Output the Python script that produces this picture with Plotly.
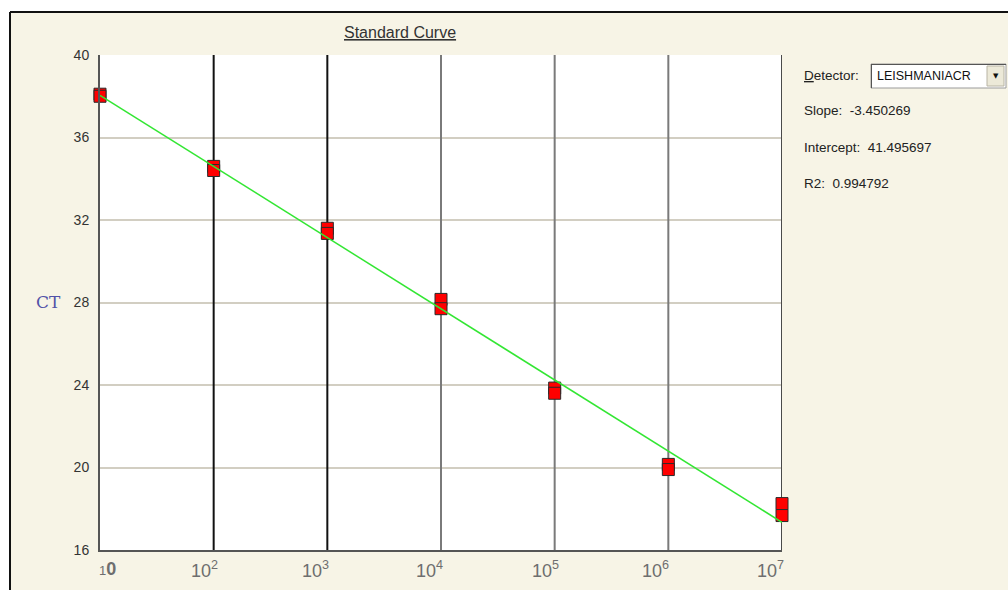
import math
import plotly.graph_objects as go

# Standard-curve replicates: template quantity (copies) and measured CT
quantity = [1e1, 1e1, 1e2, 1e2, 1e3, 1e3, 1e4, 1e4, 1e5, 1e5, 1e6, 1e6, 1e7, 1e7]
ct_values = [38.1, 38.0, 34.6, 34.4, 31.6, 31.35, 28.15, 27.7, 23.85, 23.6, 20.15, 19.9, 18.25, 17.67]

# Regression summary shown beside the plot
detector_name = "LEISHMANIACR"
slope = -3.450269
intercept = 41.495697
r2 = 0.994792

# Axis definitions
decades = [1, 2, 3, 4, 5, 6, 7]
y_ticks = [16, 20, 24, 28, 32, 36, 40]

W, H = 1008, 590
L, R, T, B = 100, 226, 55, 40
PW, PH = W - L - R, H - T - B

BEIGE = "#f7f4e6"


def px(x):
    return (x - L) / PW


def py(y):
    return (H - B - y) / PH


fig = go.Figure()

# Vertical decade lines (first ones darker than the later ones)
decade_line_colors = {2: "#111111", 3: "#111111", 4: "#7a7a7a", 5: "#7a7a7a", 6: "#7a7a7a", 7: "#4a4a4a"}
for d in decades[1:]:
    fig.add_trace(go.Scatter(
        x=[10 ** d, 10 ** d], y=[y_ticks[0], y_ticks[-1]], mode="lines",
        line=dict(color=decade_line_colors[d], width=2),
        hoverinfo="skip", showlegend=False, cliponaxis=False))

# Replicate points
fig.add_trace(go.Scatter(
    x=quantity, y=ct_values, mode="markers",
    marker=dict(symbol="square", size=12, color="#ff0000",
                line=dict(color="#2a2a2a", width=1)),
    showlegend=False, cliponaxis=False))

# Fitted standard curve: CT = slope * log10(quantity) + intercept
fit_x = [10 ** decades[0], 10 ** decades[-1]]
fit_y = [slope * math.log10(v) + intercept for v in fit_x]
fig.add_trace(go.Scatter(
    x=fit_x, y=fit_y, mode="lines",
    line=dict(color="#33e633", width=1.5),
    showlegend=False, cliponaxis=False))

annotations = []

# Title
annotations.append(dict(
    text="<u>Standard Curve</u>", xref="paper", yref="paper",
    x=px(400), y=py(33), xanchor="center", yanchor="middle", showarrow=False,
    font=dict(family="Liberation Sans", size=16, color="#333333")))

# Y axis title
annotations.append(dict(
    text="CT", xref="paper", yref="paper",
    x=px(48), y=py(302), xanchor="center", yanchor="middle", showarrow=False,
    font=dict(family="DejaVu Serif", size=17, color="#5252a8")))

# Decade tick labels on the log axis
tick_font = dict(family="Liberation Sans", size=18, color="#6e6e6e")
tick_texts = ["<span style='font-size:13px'>1</span><b>0</b>"] + ["10<sup>%d</sup>" % d for d in decades[1:]]
tick_shift = {1: -3, 2: 6, 3: 4, 4: 4, 5: 6, 6: 3, 7: 4}
for d, txt in zip(decades, tick_texts):
    annotations.append(dict(
        text=txt, xref="x", yref="paper", x=d, y=py(569),
        xanchor="left" if d == decades[0] else "right", yanchor="middle",
        xshift=tick_shift[d], showarrow=False, font=tick_font))

# Regression summary panel
panel_font = dict(family="Liberation Sans", size=13.5, color="#222222")
panel_rows = [
    ("<u>D</u>etector:", 75),
    ("Slope:  %.6f" % slope, 111),
    ("Intercept:  %.6f" % intercept, 147),
    ("R2:  %.6f" % r2, 183),
]
for txt, ypix in panel_rows:
    annotations.append(dict(
        text=txt, xref="paper", yref="paper", x=px(802), y=py(ypix),
        xanchor="left", yanchor="middle", showarrow=False, font=panel_font))

annotations.append(dict(
    text=detector_name, xref="paper", yref="paper", x=px(875), y=py(76),
    xanchor="left", yanchor="middle", showarrow=False,
    font=dict(family="Liberation Sans", size=12.5, color="#111111")))
annotations.append(dict(
    text="▼", xref="paper", yref="paper", x=px(996), y=py(76),
    xanchor="center", yanchor="middle", showarrow=False,
    font=dict(family="DejaVu Sans", size=7, color="#111111")))

shapes = [
    # white margin outside the framed window
    dict(type="rect", xref="paper", yref="paper", layer="below",
         x0=px(-5), x1=px(W + 5), y0=py(12), y1=py(-5),
         fillcolor="white", line=dict(width=0)),
    dict(type="rect", xref="paper", yref="paper", layer="below",
         x0=px(-5), x1=px(10), y0=py(H + 5), y1=py(-5),
         fillcolor="white", line=dict(width=0)),
    # window frame
    dict(type="line", xref="paper", yref="paper", x0=px(10), x1=px(W + 5),
         y0=py(12), y1=py(12), line=dict(color="#111111", width=2)),
    dict(type="line", xref="paper", yref="paper", x0=px(10), x1=px(10),
         y0=py(12), y1=py(H + 5), line=dict(color="#111111", width=2)),
    # detector drop-down box
    dict(type="rect", xref="paper", yref="paper", x0=px(871), x1=px(1006),
         y0=py(88), y1=py(64), fillcolor="white",
         line=dict(color="#9a9a9a", width=1)),
    dict(type="line", xref="paper", yref="paper", x0=px(871), x1=px(1006),
         y0=py(64.5), y1=py(64.5), line=dict(color="#555555", width=1)),
    dict(type="line", xref="paper", yref="paper", x0=px(871.5), x1=px(871.5),
         y0=py(64), y1=py(88), line=dict(color="#555555", width=1)),
    dict(type="rect", xref="paper", yref="paper", x0=px(987), x1=px(1004),
         y0=py(86), y1=py(66), fillcolor="#ece9d8",
         line=dict(color="#b8b4a4", width=1)),
]

fig.update_layout(
    width=W, height=H,
    margin=dict(l=L, r=R, t=T, b=B, pad=0),
    paper_bgcolor=BEIGE, plot_bgcolor="white",
    showlegend=False,
    annotations=annotations, shapes=shapes,
    xaxis=dict(type="log", range=[decades[0], decades[-1]],
               showgrid=False, zeroline=False, showticklabels=False,
               ticks="", showline=True, linecolor="#555555", linewidth=2),
    yaxis=dict(range=[y_ticks[0], y_ticks[-1]], tickvals=y_ticks,
               showgrid=True, gridcolor="#d2cec2", gridwidth=2,
               zeroline=False, ticks="", ticklabelstandoff=6,
               showline=True, linecolor="#555555", linewidth=2,
               tickfont=dict(family="Liberation Sans", size=14, color="#333333")),
)

fig.write_html("out.html")
